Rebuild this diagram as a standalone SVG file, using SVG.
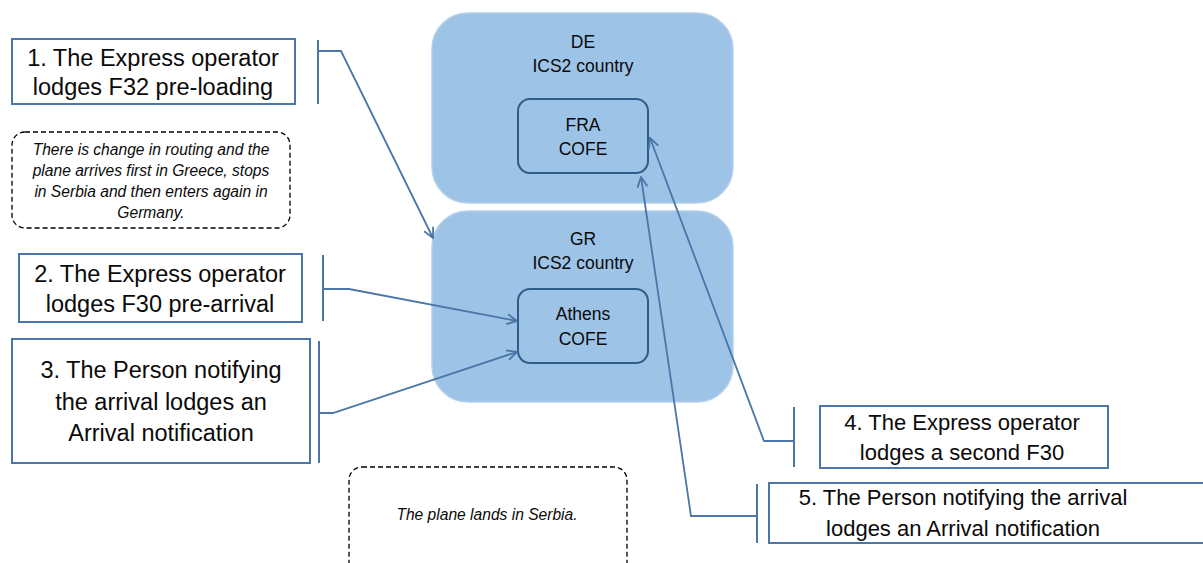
<svg xmlns="http://www.w3.org/2000/svg" width="1203" height="563" viewBox="0 0 1203 563">
<style>
.bg{fill:#9DC3E6;stroke:#B4D1EC;stroke-width:1.5}
.cofe{fill:#9DC3E6;stroke:#2E5D8A;stroke-width:2}
.box{fill:#fff;stroke:#4A76A8;stroke-width:2}
.note{fill:#fff;stroke:#000;stroke-width:1.3;stroke-dasharray:5 3}
.br{fill:none;stroke:#4A76A8;stroke-width:2}
.con{fill:none;stroke:#4A76A8;stroke-width:1.8}
text{font-family:"Liberation Sans",Arial,sans-serif;fill:#0a0a0a;text-anchor:middle}
.big{font-size:23.5px}
.big2{font-size:22px}
.mid{font-size:17.5px}
.it{font-size:15.6px;font-style:italic}
</style>
<defs>
<marker id="ah" viewBox="0 0 12 12" refX="11" refY="6" markerWidth="12" markerHeight="12" markerUnits="userSpaceOnUse" orient="auto">
<path d="M1,1 L11,6 L1,11" fill="none" stroke="#4A76A8" stroke-width="1.8"/>
</marker>
</defs>
<g id="de">
<rect class="bg" x="432" y="13" width="301" height="190" rx="36"/>
<text class="mid" x="583" y="48">DE</text>
<text class="mid" x="583" y="72">ICS2 country</text>
</g>
<g id="gr">
<rect class="bg" x="432" y="211" width="301" height="191" rx="36"/>
<text class="mid" x="583" y="245">GR</text>
<text class="mid" x="583" y="269">ICS2 country</text>
</g>
<g id="fra">
<rect class="cofe" x="518" y="99" width="130" height="74" rx="12"/>
<text class="mid" x="583" y="131">FRA</text>
<text class="mid" x="583" y="155">COFE</text>
</g>
<g id="athens">
<rect class="cofe" x="518" y="289" width="130" height="74" rx="12"/>
<text class="mid" x="583" y="320">Athens</text>
<text class="mid" x="583" y="345">COFE</text>
</g>
<g id="step1">
<rect class="box" x="12" y="39" width="283" height="65"/>
<text class="big" x="153" y="66">1. The Express operator</text>
<text class="big" x="153" y="95">lodges F32 pre-loading</text>
</g>
<g id="note1">
<rect class="note" x="12" y="132" width="278" height="96" rx="13"/>
<text class="it" x="151" y="155">There is change in routing and the</text>
<text class="it" x="151" y="176">plane arrives first in Greece, stops</text>
<text class="it" x="151" y="197">in Serbia and then enters again in</text>
<text class="it" x="151" y="218">Germany.</text>
</g>
<g id="step2">
<rect class="box" x="19" y="254" width="283" height="68"/>
<text class="big" x="160" y="282">2. The Express operator</text>
<text class="big" x="160" y="312">lodges F30 pre-arrival</text>
</g>
<g id="step3">
<rect class="box" x="12" y="339" width="298" height="124"/>
<text class="big" x="161" y="378">3. The Person notifying</text>
<text class="big" x="161" y="410">the arrival lodges an</text>
<text class="big" x="161" y="441">Arrival notification</text>
</g>
<g id="step4">
<rect class="box" x="820" y="406" width="288" height="62"/>
<text class="big2" x="962" y="430">4. The Express operator</text>
<text class="big2" x="962" y="460">lodges a second F30</text>
</g>
<g id="step5">
<rect class="box" x="769" y="483" width="440" height="60"/>
<text class="big2" x="963" y="505">5. The Person notifying the arrival</text>
<text class="big2" x="963" y="536">lodges an Arrival notification</text>
</g>
<g id="note2">
<rect class="note" x="349" y="467" width="278" height="110" rx="13"/>
<text class="it" x="487" y="520">The plane lands in Serbia.</text>
</g>
<g id="connectors">
<path class="br" d="M318,40 V104"/>
<path class="con" d="M318,51 H341 L433,238" marker-end="url(#ah)"/>
<path class="br" d="M323,255 V321"/>
<path class="con" d="M323,289 H349 L517,321" marker-end="url(#ah)"/>
<path class="br" d="M319,341 V463"/>
<path class="con" d="M319,413 H333 L517,352" marker-end="url(#ah)"/>
<path class="br" d="M794,407 V467"/>
<path class="con" d="M794,441 H764 L650,138" marker-end="url(#ah)"/>
<path class="br" d="M757,484 V543"/>
<path class="con" d="M757,516 H691 L641,177" marker-end="url(#ah)"/>
</g>
</svg>
